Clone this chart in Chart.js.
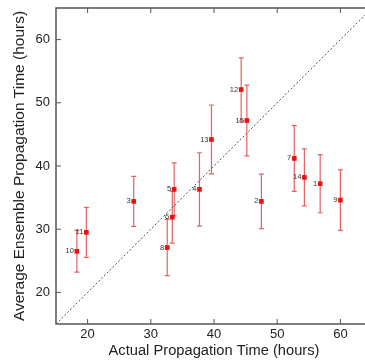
<!DOCTYPE html>
<html>
<head>
<meta charset="utf-8">
<script src="https://cdn.jsdelivr.net/npm/chart.js@4/dist/chart.umd.min.js"></script>
<style>
  html, body { margin: 0; padding: 0; background: #fff; overflow: hidden; }
  #wrap { width: 378px; height: 364px; }
</style>
</head>
<body>
<div id="wrap"><canvas id="chart" width="378" height="364"></canvas></div>
<script>
// event numbers, actual vs ensemble-average propagation time (hours), error half-widths
const eventIds = ['1', '2', '3', '4', '5', '6', '7', '8', '9', '10', '11', '12', '13', '14', '15'];
const actualTime = [56.8, 47.5, 27.3, 37.7, 33.7, 33.4, 52.7, 32.6, 60.0, 18.3, 19.8, 44.3, 39.6, 54.3, 45.2];
const ensembleTime = [37.2, 34.4, 34.4, 36.3, 36.3, 31.9, 41.2, 27.1, 34.6, 26.5, 29.5, 52.1, 44.2, 38.2, 47.2];
const errorHalf = [4.6, 4.3, 3.95, 5.8, 4.2, 4.1, 5.2, 4.45, 4.8, 3.3, 3.95, 5.0, 5.45, 4.5, 5.6];
const tickValues = [20, 30, 40, 50, 60];
const diagonal = [15, 65];

const points = actualTime.map((x, i) => ({ x: x, y: ensembleTime[i] }));

// error bars, point labels, frame and inward ticks
const extrasPlugin = {
    id: 'extras',
    beforeDatasetsDraw(chart) {
        const ctx = chart.ctx;
        const xs = chart.scales.x, ys = chart.scales.y;
        ctx.save();
        ctx.strokeStyle = '#e06464';
        ctx.lineWidth = 1.2;
        points.forEach((p, i) => {
            const px = xs.getPixelForValue(p.x);
            const top = ys.getPixelForValue(p.y + errorHalf[i]);
            const bot = ys.getPixelForValue(p.y - errorHalf[i]);
            ctx.beginPath();
            ctx.moveTo(px, top); ctx.lineTo(px, bot);
            ctx.moveTo(px - 2.5, top); ctx.lineTo(px + 2.5, top);
            ctx.moveTo(px - 2.5, bot); ctx.lineTo(px + 2.5, bot);
            ctx.stroke();
        });
        ctx.restore();
    },
    afterDatasetsDraw(chart) {
        const ctx = chart.ctx;
        const xs = chart.scales.x, ys = chart.scales.y;
        const area = chart.chartArea;
        ctx.save();
        ctx.fillStyle = '#333';
        ctx.font = '7.5px "Liberation Sans", Arial, sans-serif';
        ctx.textAlign = 'right';
        ctx.textBaseline = 'middle';
        points.forEach((p, i) => {
            ctx.fillText(eventIds[i], xs.getPixelForValue(p.x) - 3, ys.getPixelForValue(p.y));
        });

        ctx.strokeStyle = '#555';
        ctx.lineWidth = 1.5;
        ctx.strokeRect(area.left, area.top, area.right - area.left, area.bottom - area.top);

        ctx.lineWidth = 1;
        ctx.beginPath();
        tickValues.forEach(v => {
            const px = xs.getPixelForValue(v);
            ctx.moveTo(px, area.bottom); ctx.lineTo(px, area.bottom - 5);
            ctx.moveTo(px, area.top); ctx.lineTo(px, area.top + 5);
            const py = ys.getPixelForValue(v);
            ctx.moveTo(area.left, py); ctx.lineTo(area.left + 5, py);
            ctx.moveTo(area.right, py); ctx.lineTo(area.right - 5, py);
        });
        ctx.stroke();
        ctx.restore();
    }
};

const fontFamily = '"Liberation Sans", Arial, sans-serif';

new Chart(document.getElementById('chart').getContext('2d'), {
    type: 'scatter',
    data: {
        datasets: [{
            data: diagonal.map(v => ({ x: v, y: v })),
            type: 'line',
            borderColor: '#555',
            borderWidth: 1,
            borderDash: [2, 2],
            pointRadius: 0
        }, {
            data: points,
            pointStyle: 'rect',
            pointRadius: 3.3,
            backgroundColor: '#ee1111',
            borderColor: '#ee1111',
            borderWidth: 0
        }]
    },
    options: {
        responsive: false,
        animation: false,
        layout: { padding: { top: 8, right: 6, left: 10, bottom: 0 } },
        plugins: {
            legend: { display: false },
            tooltip: { enabled: false }
        },
        scales: {
            x: {
                type: 'linear',
                min: 15,
                max: 65,
                afterFit: s => { s.height = 40; s.paddingLeft = 0; s.paddingRight = 0; },
                afterBuildTicks: s => { s.ticks = tickValues.map(v => ({ value: v })); },
                grid: { display: false, drawTicks: false },
                border: { display: false },
                ticks: { color: '#222', padding: 3, font: { family: fontFamily, size: 13 } },
                title: {
                    display: true,
                    text: 'Actual Propagation Time (hours)',
                    color: '#222',
                    padding: { top: 0, bottom: 4 },
                    font: { family: fontFamily, size: 14.7 }
                }
            },
            y: {
                type: 'linear',
                min: 15,
                max: 65,
                afterFit: s => { s.width = 46; s.paddingTop = 0; s.paddingBottom = 0; },
                afterBuildTicks: s => { s.ticks = tickValues.map(v => ({ value: v })); },
                grid: { display: false, drawTicks: false },
                border: { display: false },
                ticks: { color: '#222', padding: 6, font: { family: fontFamily, size: 13 } },
                title: {
                    display: true,
                    text: 'Average Ensemble Propagation Time (hours)',
                    color: '#222',
                    padding: { top: 0, bottom: 0 },
                    font: { family: fontFamily, size: 15.5 }
                }
            }
        }
    },
    plugins: [extrasPlugin]
});
</script>
</body>
</html>
